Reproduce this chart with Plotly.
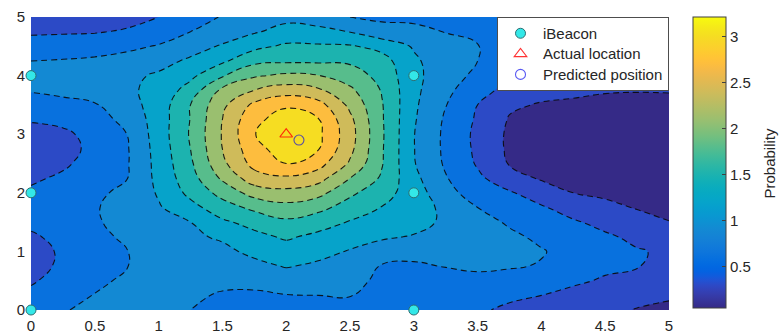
import plotly.graph_objects as go

# ---------------- data ----------------
x_vals = [0, 0.25, 0.5, 0.75, 1, 1.25, 1.5, 1.75, 2, 2.25, 2.5,
          2.75, 3, 3.25, 3.5, 3.75, 4, 4.25, 4.5, 4.75, 5]
y_vals = [0, 0.25, 0.5, 0.75, 1, 1.25, 1.5, 1.75, 2, 2.25, 2.5,
          2.75, 3, 3.25, 3.5, 3.75, 4, 4.25, 4.5, 4.75, 5]

# probability along y (0 -> 5) for each x column
col_x0_00 = [0.75, 0.66, 0.57, 0.52, 0.52, 0.57, 0.65, 0.70, 0.64, 0.56, 0.50, 0.47, 0.52, 0.62, 0.78, 0.92, 1.00, 0.90, 0.72, 0.56, 0.45]
col_x0_25 = [0.88, 0.78, 0.70, 0.64, 0.63, 0.66, 0.72, 0.76, 0.72, 0.64, 0.56, 0.52, 0.54, 0.68, 0.83, 0.96, 1.04, 0.92, 0.74, 0.57, 0.46]
col_x0_50 = [0.97, 0.91, 0.85, 0.80, 0.79, 0.82, 0.87, 0.88, 0.85, 0.77, 0.70, 0.66, 0.70, 0.78, 0.88, 1.00, 1.08, 0.95, 0.77, 0.58, 0.47]
col_x0_75 = [1.00, 0.98, 0.94, 0.89, 0.89, 0.95, 0.99, 1.00, 0.96, 0.89, 0.87, 0.87, 0.90, 0.98, 1.08, 1.14, 1.13, 1.00, 0.84, 0.63, 0.50]
col_x1_00 = [1.00, 1.02, 1.04, 1.06, 1.08, 1.10, 1.13, 1.17, 1.23, 1.28, 1.30, 1.32, 1.34, 1.34, 1.33, 1.30, 1.24, 1.10, 0.92, 0.76, 0.60]
col_x1_25 = [0.90, 0.95, 1.00, 1.05, 1.10, 1.15, 1.20, 1.40, 1.58, 1.68, 1.75, 1.80, 1.83, 1.81, 1.80, 1.62, 1.43, 1.25, 1.08, 0.90, 0.76]
col_x1_50 = [0.80, 0.87, 0.97, 1.06, 1.13, 1.24, 1.45, 1.67, 1.90, 2.15, 2.33, 2.40, 2.42, 2.40, 2.33, 2.17, 1.77, 1.45, 1.23, 1.05, 0.92]
col_x1_75 = [0.78, 0.86, 0.97, 1.12, 1.27, 1.42, 1.60, 1.87, 2.22, 2.57, 2.80, 2.90, 2.99, 2.93, 2.77, 2.40, 2.06, 1.72, 1.42, 1.17, 1.00]
col_x2_00 = [0.80, 0.89, 1.05, 1.22, 1.37, 1.54, 1.74, 2.00, 2.30, 2.65, 3.00, 3.15, 3.20, 3.13, 2.96, 2.55, 2.16, 1.75, 1.55, 1.30, 1.12]
col_x2_25 = [0.80, 0.90, 1.02, 1.15, 1.29, 1.43, 1.63, 1.89, 2.20, 2.52, 2.82, 3.02, 3.07, 3.02, 2.82, 2.45, 2.11, 1.75, 1.54, 1.28, 1.06]
col_x2_50 = [0.82, 0.91, 1.00, 1.08, 1.18, 1.32, 1.48, 1.67, 1.86, 2.10, 2.36, 2.48, 2.52, 2.47, 2.33, 2.16, 1.95, 1.75, 1.53, 1.19, 0.90]
col_x2_75 = [0.75, 0.78, 0.83, 0.88, 1.06, 1.24, 1.38, 1.49, 1.62, 1.76, 1.82, 1.83, 1.84, 1.83, 1.82, 1.78, 1.70, 1.62, 1.40, 1.00, 0.85]
col_x3_00 = [0.72, 0.75, 0.80, 0.87, 0.97, 1.18, 1.30, 1.36, 1.35, 1.28, 1.22, 1.21, 1.21, 1.23, 1.25, 1.27, 1.28, 1.25, 1.17, 0.97, 0.84]
col_x3_25 = [0.68, 0.72, 0.80, 0.91, 1.02, 1.10, 1.15, 1.12, 1.00, 0.92, 0.86, 0.84, 0.84, 0.86, 0.91, 0.97, 1.02, 1.03, 1.00, 0.89, 0.80]
col_x3_50 = [0.63, 0.70, 0.82, 0.95, 1.05, 1.08, 1.02, 0.90, 0.76, 0.66, 0.57, 0.54, 0.53, 0.56, 0.60, 0.72, 0.84, 0.90, 0.91, 0.86, 0.77]
col_x3_75 = [0.56, 0.64, 0.77, 0.93, 0.99, 0.96, 0.86, 0.74, 0.63, 0.42, 0.28, 0.25, 0.25, 0.28, 0.34, 0.50, 0.60, 0.67, 0.70, 0.68, 0.62]
col_x4_00 = [0.48, 0.60, 0.74, 0.88, 0.92, 0.84, 0.72, 0.63, 0.45, 0.27, 0.20, 0.16, 0.15, 0.18, 0.28, 0.38, 0.45, 0.50, 0.52, 0.52, 0.50]
col_x4_25 = [0.42, 0.50, 0.66, 0.78, 0.80, 0.75, 0.63, 0.48, 0.30, 0.20, 0.14, 0.12, 0.11, 0.14, 0.25, 0.36, 0.42, 0.46, 0.48, 0.48, 0.46]
col_x4_50 = [0.35, 0.42, 0.56, 0.67, 0.70, 0.64, 0.52, 0.38, 0.24, 0.15, 0.10, 0.08, 0.08, 0.10, 0.20, 0.33, 0.40, 0.44, 0.46, 0.46, 0.44]
col_x4_75 = [0.29, 0.36, 0.50, 0.61, 0.62, 0.54, 0.42, 0.28, 0.18, 0.11, 0.07, 0.06, 0.06, 0.08, 0.18, 0.32, 0.40, 0.43, 0.44, 0.44, 0.42]
col_x5_00 = [0.25, 0.33, 0.46, 0.55, 0.56, 0.48, 0.31, 0.20, 0.13, 0.08, 0.06, 0.05, 0.05, 0.07, 0.17, 0.33, 0.40, 0.43, 0.44, 0.43, 0.41]

prob_cols = [col_x0_00, col_x0_25, col_x0_50, col_x0_75, col_x1_00, col_x1_25,
             col_x1_50, col_x1_75, col_x2_00, col_x2_25, col_x2_50, col_x2_75,
             col_x3_00, col_x3_25, col_x3_50, col_x3_75, col_x4_00, col_x4_25,
             col_x4_50, col_x4_75, col_x5_00]

beacon_x = [0, 0, 0, 3, 3, 3]
beacon_y = [0, 2, 4, 0, 2, 4]
actual_x, actual_y = [2.0], [3.0]
pred_x, pred_y = [2.1], [2.9]

series_names = ["iBeacon", "Actual location", "Predicted position"]

contour_levels = [0.3, 0.6, 0.9, 1.2, 1.5, 1.8, 2.1, 2.4, 2.7, 3.0]
clim = [0.05, 3.21]

x_tick_vals = [0, 0.5, 1, 1.5, 2, 2.5, 3, 3.5, 4, 4.5, 5]
x_tick_text = ["0", "0.5", "1", "1.5", "2", "2.5", "3", "3.5", "4", "4.5", "5"]
y_tick_vals = [0, 1, 2, 3, 4, 5]
y_tick_text = ["0", "1", "2", "3", "4", "5"]
cb_tick_vals = [0.5, 1, 1.5, 2, 2.5, 3]
cb_tick_text = ["0.5", "1", "1.5", "2", "2.5", "3"]

# ---------------- colours (MATLAB parula) ----------------
PARULA = [
    (0.2081, 0.1663, 0.5292), (0.2116, 0.1898, 0.5777), (0.2123, 0.2138, 0.6270), (0.2081, 0.2386, 0.6771),
    (0.1959, 0.2645, 0.7279), (0.1707, 0.2919, 0.7792), (0.1253, 0.3242, 0.8303), (0.0591, 0.3598, 0.8683),
    (0.0117, 0.3875, 0.8820), (0.0060, 0.4086, 0.8828), (0.0165, 0.4266, 0.8786), (0.0329, 0.4430, 0.8720),
    (0.0498, 0.4586, 0.8641), (0.0629, 0.4737, 0.8554), (0.0723, 0.4887, 0.8467), (0.0779, 0.5040, 0.8384),
    (0.0793, 0.5200, 0.8312), (0.0749, 0.5375, 0.8263), (0.0641, 0.5570, 0.8240), (0.0488, 0.5772, 0.8228),
    (0.0343, 0.5966, 0.8199), (0.0265, 0.6137, 0.8135), (0.0239, 0.6287, 0.8038), (0.0231, 0.6418, 0.7913),
    (0.0228, 0.6535, 0.7768), (0.0267, 0.6642, 0.7607), (0.0384, 0.6743, 0.7436), (0.0590, 0.6838, 0.7254),
    (0.0843, 0.6928, 0.7062), (0.1133, 0.7015, 0.6859), (0.1453, 0.7098, 0.6646), (0.1801, 0.7177, 0.6424),
    (0.2178, 0.7250, 0.6193), (0.2586, 0.7317, 0.5954), (0.3022, 0.7376, 0.5712), (0.3482, 0.7424, 0.5473),
    (0.3953, 0.7459, 0.5244), (0.4420, 0.7481, 0.5033), (0.4871, 0.7491, 0.4840), (0.5300, 0.7491, 0.4661),
    (0.5709, 0.7485, 0.4494), (0.6099, 0.7473, 0.4337), (0.6473, 0.7456, 0.4188), (0.6834, 0.7435, 0.4044),
    (0.7184, 0.7411, 0.3905), (0.7525, 0.7384, 0.3768), (0.7858, 0.7356, 0.3633), (0.8185, 0.7327, 0.3498),
    (0.8507, 0.7299, 0.3360), (0.8824, 0.7274, 0.3217), (0.9139, 0.7258, 0.3063), (0.9450, 0.7261, 0.2886),
    (0.9739, 0.7314, 0.2666), (0.9938, 0.7455, 0.2403), (0.9990, 0.7653, 0.2164), (0.9955, 0.7861, 0.1967),
    (0.9880, 0.8066, 0.1794), (0.9789, 0.8271, 0.1633), (0.9697, 0.8481, 0.1475), (0.9626, 0.8705, 0.1309),
    (0.9589, 0.8949, 0.1132), (0.9598, 0.9218, 0.0948), (0.9661, 0.9514, 0.0755), (0.9763, 0.9831, 0.0538),
]


def rgb(c):
    return "rgb(%d,%d,%d)" % tuple(round(255 * v) for v in c)


def parula_at(p):
    p = min(max(p, 0.0), 1.0)
    f = p * (len(PARULA) - 1)
    i = min(int(f), len(PARULA) - 2)
    t = f - i
    a, b = PARULA[i], PARULA[i + 1]
    return tuple(a[k] + (b[k] - a[k]) * t for k in range(3))


parula_scale = [[i / (len(PARULA) - 1), rgb(c)] for i, c in enumerate(PARULA)]

# MATLAB contourf: each band takes the colour of its lower level (lowest band = data min)
band_lows = [clim[0]] + contour_levels
n_b = len(band_lows) - 1
band_scale = [[i / n_b, rgb(parula_at((v - clim[0]) / (clim[1] - clim[0])))]
              for i, v in enumerate(band_lows)]

# z as rows (y) x columns (x)
z_grid = [[prob_cols[i][j] for i in range(len(x_vals))] for j in range(len(y_vals))]

FONT = "Liberation Sans, Arial, Helvetica, sans-serif"
TXT = "#262626"


def legend_label(s):
    # text drawn at 15px while the legend row pitch follows the (smaller) legend font
    return "<span style='font-size:15px'>%s</span>" % s


fig = go.Figure()

fig.add_trace(go.Contour(
    x=x_vals, y=y_vals, z=z_grid,
    autocontour=False,
    contours=dict(start=contour_levels[0], end=contour_levels[-1],
                  size=contour_levels[1] - contour_levels[0],
                  coloring="fill", showlines=True),
    colorscale=band_scale,
    line=dict(color="rgba(10,10,10,0.9)", width=1.1, dash="6px,4px", smoothing=1.3),
    showscale=False, hoverinfo="skip", showlegend=False,
))

# continuous colour bar (MATLAB style)
fig.add_trace(go.Scatter(
    x=[2.5], y=[2.5], mode="markers", hoverinfo="skip", showlegend=False,
    marker=dict(size=1, opacity=0, color=[clim[0]], cmin=clim[0], cmax=clim[1],
                colorscale=parula_scale, showscale=True,
                colorbar=dict(x=(693 - 31) / 638, xanchor="left", xpad=0, ypad=0,
                              y=1, yanchor="top", lenmode="pixels", len=291,
                              thicknessmode="pixels", thickness=33,
                              outlinewidth=1, outlinecolor="#404040",
                              tickvals=cb_tick_vals, ticktext=cb_tick_text,
                              ticks="inside", ticklen=4, tickcolor="#404040",
                              tickfont=dict(family=FONT, size=15, color=TXT))),
))

fig.add_trace(go.Scatter(
    x=beacon_x, y=beacon_y, mode="markers", name=legend_label(series_names[0]),
    cliponaxis=False,
    marker=dict(symbol="circle", size=10, color="#33e8e8",
                line=dict(color="#2d6e72", width=1)),
))
fig.add_trace(go.Scatter(
    x=actual_x, y=actual_y, mode="markers", name=legend_label(series_names[1]),
    marker=dict(symbol="triangle-up-open", size=11, color="rgba(255,0,0,0.8)",
                line=dict(color="rgba(255,0,0,0.8)", width=1.1)),
))
fig.add_trace(go.Scatter(
    x=pred_x, y=pred_y, mode="markers", name=legend_label(series_names[2]),
    marker=dict(symbol="circle-open", size=10, color="rgba(0,0,235,0.65)",
                line=dict(color="rgba(0,0,235,0.65)", width=1.1)),
))

fig.add_annotation(text="Probability", xref="paper", yref="paper",
                   x=(769 - 31) / 638, y=0.5, xanchor="center", yanchor="middle",
                   textangle=-90, showarrow=False,
                   font=dict(family=FONT, size=15, color=TXT))

axis_common = dict(showgrid=False, zeroline=False, showline=False, ticks="",
                   automargin=False,
                   tickfont=dict(family=FONT, size=15, color=TXT))
fig.update_xaxes(range=[0, 5], tickvals=x_tick_vals, ticktext=x_tick_text,
                 ticklabelstandoff=5, **axis_common)
fig.update_yaxes(range=[0, 5], tickvals=y_tick_vals, ticktext=y_tick_text,
                 ticklabelstandoff=5, **axis_common)

fig.update_layout(
    width=779, height=336,
    margin=dict(l=31, r=110, t=17, b=26, pad=0, autoexpand=False),
    paper_bgcolor="white", plot_bgcolor="white",
    font=dict(family=FONT, size=14, color=TXT),
    legend=dict(x=1, y=1, xanchor="right", yanchor="top",
                bgcolor="white", bordercolor="#4d4d4d", borderwidth=1,
                font=dict(family=FONT, size=13.5, color=TXT),
                itemwidth=35, tracegroupgap=0, itemsizing="trace"),
)

fig.write_html("out.html", config={"displayModeBar": False},
               post_script="document.body.style.margin='0';")
